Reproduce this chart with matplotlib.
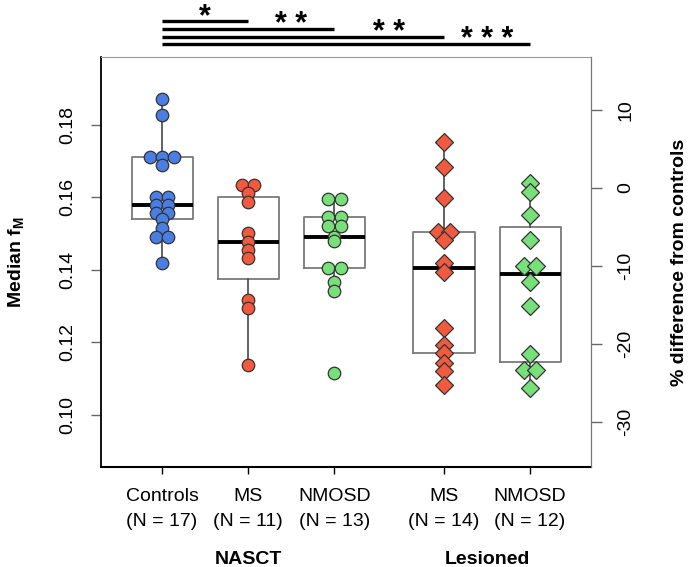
import numpy as np
import matplotlib
matplotlib.use("Agg")
import matplotlib.pyplot as plt
import matplotlib.transforms as mtransforms

plt.rcParams['font.family'] = ['Liberation Sans', 'DejaVu Sans']
plt.rcParams['mathtext.fontset'] = 'custom'
plt.rcParams['mathtext.rm'] = 'Liberation Sans'
plt.rcParams['mathtext.bf'] = 'Liberation Sans:bold'

# median fM per subject
controls = [0.1871, 0.1828, 0.1713, 0.1713, 0.1713, 0.1690, 0.1601, 0.1601,
            0.1580, 0.1580, 0.1556, 0.1556, 0.1540, 0.1515, 0.1492, 0.1492, 0.1420]
ms_nasct = [0.1634, 0.1634, 0.1612, 0.1588, 0.1501, 0.1478, 0.1455, 0.1432,
            0.1317, 0.1294, 0.1138]
nmosd_nasct = [0.1595, 0.1595, 0.1547, 0.1547, 0.1522, 0.1522, 0.1492, 0.1480,
               0.1406, 0.1406, 0.1368, 0.1343, 0.1117]
ms_les = [0.1752, 0.1685, 0.1598, 0.1506, 0.1506, 0.1483, 0.1418, 0.1395,
          0.1239, 0.1193, 0.1170, 0.1143, 0.1120, 0.1083]
nmosd_les = [0.1641, 0.1616, 0.1552, 0.1483, 0.1411, 0.1411, 0.1368, 0.1301,
             0.1167, 0.1124, 0.1124, 0.1074]

groups = [controls, ms_nasct, nmosd_nasct, ms_les, nmosd_les]
tick_labels = ['Controls\n(N = 17)', 'MS\n(N = 11)', 'NMOSD\n(N = 13)',
               'MS\n(N = 14)', 'NMOSD\n(N = 12)']
colors = ['#4A7EE3', '#F25A3F', '#78E07A', '#F25A3F', '#78E07A']
markers = ['o', 'o', 'o', 'D', 'D']
stars = ['*', '* *', '* *', '* * *']
fm_ticks = [0.10, 0.12, 0.14, 0.16, 0.18]
pct_ticks = [-30, -20, -10, 0, 10]

positions = [1, 2, 3, 4.27, 5.27]


def fivenum(v):
    # Tukey hinges, like R's boxplot
    v = np.sort(v)
    n = len(v)
    n4 = np.floor((n + 3) / 2) / 2
    d = np.array([1, n4, (n + 1) / 2, n + 1 - n4, n])
    return 0.5 * (v[np.floor(d).astype(int) - 1] + v[np.ceil(d).astype(int) - 1])


def box_stats(v):
    v = np.asarray(v)
    _, q1, med, q3, _ = fivenum(v)
    iqr = q3 - q1
    return dict(med=med, q1=q1, q3=q3,
                whislo=v[v >= q1 - 1.5 * iqr].min(),
                whishi=v[v <= q3 + 1.5 * iqr].max(), fliers=[])


def swarm(vals, x0, step):
    # points sharing a value are spread side by side around the centre
    vals = np.asarray(vals)
    xs = np.full(len(vals), float(x0))
    for v in np.unique(vals):
        idx = np.where(vals == v)[0]
        xs[idx] = x0 + (np.arange(len(idx)) - (len(idx) - 1) / 2) * step
    return xs


fig = plt.figure(figsize=(6.89, 5.67), dpi=100)
ax = fig.add_axes([0.1466, 0.1764, 0.7112, 0.7231])

ax.bxp([box_stats(g) for g in groups], positions=positions, widths=0.71,
       showcaps=False, showfliers=False,
       boxprops=dict(color='#7a7a7a', lw=1.3),
       whiskerprops=dict(color='#555555', lw=1.3),
       medianprops=dict(color='black', lw=2.8))

for g, p, c, m in zip(groups, positions, colors, markers):
    ax.plot(swarm(g, p, 0.14), g, ls='none', marker=m, ms=9,
            mfc=c, mec='#333333', mew=0.9, zorder=3)

ax.set_xlim(0.291, 5.977)
ax.set_ylim(0.08566, 0.19876)
ax.set_yticks(fm_ticks)
ax.set_yticklabels(['%.2f' % t for t in fm_ticks], rotation=90, va='center')
ax.set_xticks(positions)
ax.set_xticklabels(tick_labels, fontsize=14, linespacing=1.6)
ax.tick_params(axis='x', length=5, width=1, pad=10, colors='black')
ax.tick_params(axis='y', length=7, width=1, pad=11, labelsize=14, color='#666666')

ax.spines['top'].set_color('#999999')
ax.spines['left'].set_linewidth(1.3)
ax.spines['bottom'].set_linewidth(1.5)
ax.spines['right'].set_color('#777777')

ax.set_ylabel(r'Median f$_{\mathbf{M}}$', fontsize=14, fontweight='bold')
ax.yaxis.set_label_coords(-0.152, 0.5)

ax2 = ax.twinx()
ax2.set_ylim(-35.77, 16.79)
ax2.set_yticks(pct_ticks)
ax2.set_yticklabels([str(t) for t in pct_ticks], rotation=90, va='center')
ax2.tick_params(axis='y', length=8, width=1, pad=11, labelsize=14, color='#666666')
ax2.spines['right'].set_color('#777777')
ax2.spines['top'].set_visible(False)
ax2.spines['left'].set_visible(False)
ax2.spines['bottom'].set_visible(False)
ax2.set_ylabel('% difference from controls', fontsize=14, fontweight='bold')
ax2.yaxis.set_label_coords(1.164, 0.5)

# significance bars above the panel
bar_y = [0.2087, 0.2065, 0.2043, 0.2023]
for i, s in enumerate(stars):
    ax.plot([positions[0], positions[i + 1]], [bar_y[i], bar_y[i]], color='black',
            lw=2.4, clip_on=False, solid_capstyle='butt')
    ax.annotate(s, xy=((positions[i] + positions[i + 1]) / 2, bar_y[i]),
                xytext=(0, -4), textcoords='offset pixels', ha='center',
                va='baseline', fontsize=22, fontweight='bold', annotation_clip=False)

trans = mtransforms.blended_transform_factory(ax.transData, ax.transAxes)
ax.text(2, -0.225, 'NASCT', transform=trans, ha='center', va='center',
        fontsize=14, fontweight='bold')
ax.text((positions[3] + positions[4]) / 2, -0.225, 'Lesioned', transform=trans,
        ha='center', va='center', fontsize=14, fontweight='bold')

fig.savefig('out.png', dpi=100)
